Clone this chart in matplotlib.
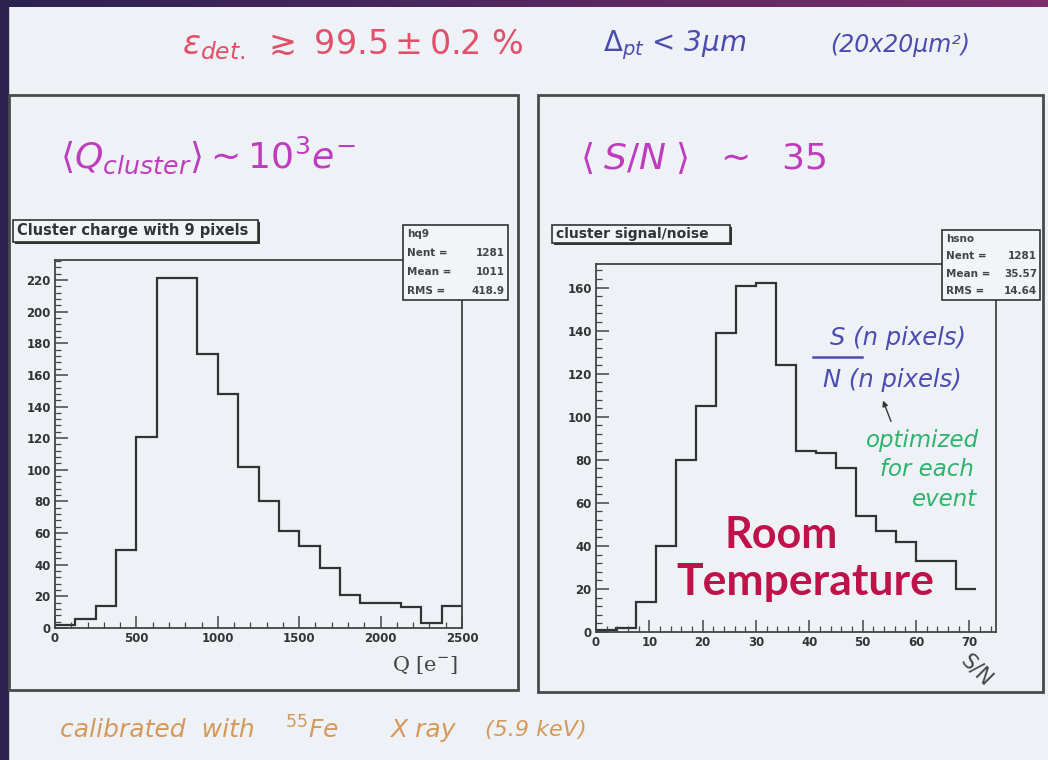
"""Slide recreation: cluster charge and cluster S/N histograms (ROOT style) with notes."""
import matplotlib
matplotlib.use('Agg')
import matplotlib.pyplot as plt
import numpy as np
from matplotlib.patches import Rectangle
from matplotlib.colors import LinearSegmentedColormap
from matplotlib.ticker import MultipleLocator

plt.rcParams['mathtext.fontset'] = 'dejavusans'

# Cluster charge with 9 pixels: 20 bins of 125 e- from 0 to 2500
q_edges = np.linspace(0, 2500, 21)
q_counts = [2, 6, 14, 49, 121, 221, 221, 173, 148, 102,
            80, 61, 52, 38, 21, 16, 16, 13, 3, 14]
q_stat_keys = ['Nent', 'Mean', 'RMS']
q_stat_vals = ['1281', '1011', '418.9']
q_hname = 'hq9'

# Cluster signal/noise: bins of 3.75, drawn up to 71.25
sn_edges = np.linspace(0, 71.25, 20)
sn_counts = [1, 2, 14, 40, 80, 105, 139, 161, 162, 124,
             84, 83, 76, 54, 47, 42, 33, 33, 20]
sn_stat_keys = ['Nent', 'Mean', 'RMS']
sn_stat_vals = ['1281', '35.57', '14.64']
sn_hname = 'hsno'

q_xticks = [0, 500, 1000, 1500, 2000, 2500]
q_yticks = list(range(0, 221, 20))
sn_xticks = [0, 10, 20, 30, 40, 50, 60, 70]
sn_yticks = list(range(0, 161, 20))

W, H = 1048, 760
fig = plt.figure(figsize=(W / 100, H / 100), dpi=100)
fig.patch.set_facecolor('#eef2f6')

# background layer: banner + panel frames
bg = fig.add_axes([0, 0, 1, 1], zorder=0)
cmap = LinearSegmentedColormap.from_list('banner', ['#2b2250', '#7b2d6e'])
bg.imshow(np.linspace(0, 1, 256)[None, :], cmap=cmap, extent=[0, W, 7, 0], aspect='auto')
bg.add_patch(Rectangle((0, 0), 8, H, color='#2b2250'))
bg.add_patch(Rectangle((9, 95), 509, 595, fill=False, ec='#4a4a4a', lw=2))
bg.add_patch(Rectangle((538, 95), 505, 597, fill=False, ec='#4a4a4a', lw=2))
bg.set_xlim(0, W)
bg.set_ylim(H, 0)
bg.axis('off')


def root_style(ax, xticks, yticks, xminor, yminor):
    ax.set_facecolor('none')
    for s in ax.spines.values():
        s.set_color('#444444')
        s.set_linewidth(1.3)
    ax.set_xticks(xticks)
    ax.set_yticks(yticks)
    ax.xaxis.set_minor_locator(MultipleLocator(xminor))
    ax.yaxis.set_minor_locator(MultipleLocator(yminor))
    ax.tick_params(which='both', direction='in', colors='#444444', labelsize=8.5, pad=3)
    ax.tick_params(which='major', length=9, width=1.1)
    ax.tick_params(which='minor', length=4.5, width=0.9)
    plt.setp(ax.get_xticklabels() + ax.get_yticklabels(), fontweight='bold', color='#333333')


axL = fig.add_axes([55 / W, (H - 628) / H, 407 / W, 368 / H], zorder=1)
axL.stairs(q_counts, q_edges, baseline=None, color='#333333', lw=1.6)
axL.set_xlim(0, 2500)
axL.set_ylim(0, 232.6)
root_style(axL, q_xticks, q_yticks, 100, 4)

axR = fig.add_axes([596 / W, (H - 632) / H, 400 / W, 368 / H], zorder=1)
axR.stairs(sn_counts, sn_edges, baseline=None, color='#333333', lw=1.6)
axR.set_xlim(0, 75)
axR.set_ylim(0, 171)
root_style(axR, sn_xticks, sn_yticks, 2, 4)

# overlay layer: boxes and annotations
fg = fig.add_axes([0, 0, 1, 1], zorder=2)
fg.set_xlim(0, W)
fg.set_ylim(H, 0)
fg.axis('off')
fg.patch.set_alpha(0)


def title_box(x0, y0, x1, y1, text, size):
    fg.add_patch(Rectangle((x0 + 2, y0 + 2), x1 - x0, y1 - y0, fc='#333333', ec='none'))
    fg.add_patch(Rectangle((x0, y0), x1 - x0, y1 - y0, fc='#f2f5f8', ec='#333333', lw=1.2))
    fg.text(x0 + 4, (y0 + y1) / 2, text, va='center', ha='left', fontsize=size,
            fontweight='bold', color='#333333')


def stats_box(x0, y0, x1, y1, name, keys, vals):
    fg.add_patch(Rectangle((x0, y0), x1 - x0, y1 - y0, fc='#f2f5f8', ec='#333333', lw=1.2))
    step = (y1 - y0) / 4
    fg.text(x0 + 4, y0 + step * 0.5, name, va='center', fontsize=7.5, fontweight='bold', color='#444444')
    for i, (k, v) in enumerate(zip(keys, vals)):
        yy = y0 + step * (i + 1.5)
        fg.text(x0 + 4, yy, f'{k} =', va='center', fontsize=7.5, fontweight='bold', color='#444444')
        fg.text(x1 - 3, yy, v, va='center', ha='right', fontsize=7.5, fontweight='bold', color='#444444')


title_box(13, 220, 258, 242, 'Cluster charge with 9 pixels', 10.5)
title_box(552, 225, 730, 243, 'cluster signal/noise', 10)
stats_box(403, 225, 508, 300, q_hname, q_stat_keys, q_stat_vals)
stats_box(942, 230, 1040, 300, sn_hname, sn_stat_keys, sn_stat_vals)

fg.text(425, 665, r'Q [e$^{-}$]', fontsize=15, family='DejaVu Serif', color='#444444',
        ha='center', va='center')
fg.text(977, 670, 'S/N', rotation=-45, fontsize=15, color='#444444', ha='center', va='center')

red, blue, magenta = '#e0506a', '#4b4bb0', '#c03cbf'
green, orange = '#2fb36e', '#d4995a'

fg.text(182, 45, r'$\varepsilon_{det.}\ \gtrsim\ 99.5 \pm 0.2\ \%$', fontsize=24, color=red,
        va='center', ha='left')
fg.text(603, 45, r'$\Delta_{pt}$ < 3μm', fontsize=20, color=blue, style='italic',
        va='center', ha='left')
fg.text(830, 45, '(20x20μm²)', fontsize=17, color=blue, style='italic', va='center', ha='left')

fg.text(60, 155, r'$\langle Q_{cluster}\rangle \sim 10^{3} e^{-}$', fontsize=26, color=magenta,
        va='center', ha='left')
fg.text(580, 157, r'$\langle\;S/N\;\rangle\ \ \sim\ \ 35$', fontsize=26, color=magenta,
        va='center', ha='left')

fg.text(830, 338, 'S (n pixels)', fontsize=17.5, color=blue, style='italic', va='center', ha='left')
fg.plot([813, 862], [357, 357], color=blue, lw=1.8)
fg.text(823, 380, 'N (n pixels)', fontsize=17.5, color=blue, style='italic', va='center', ha='left')
fg.annotate('', xy=(882, 398), xytext=(892, 424),
            arrowprops=dict(arrowstyle='-|>', color='#333333', lw=1, mutation_scale=8))
fg.text(866, 440, 'optimized', fontsize=16.5, color=green, style='italic', va='center', ha='left')
fg.text(880, 470, 'for each', fontsize=16.5, color=green, style='italic', va='center', ha='left')
fg.text(912, 500, 'event', fontsize=16.5, color=green, style='italic', va='center', ha='left')

fg.text(781, 535, 'Room', fontsize=31, fontweight='bold', family='Lato', color='#c0124a',
        ha='center', va='center')
fg.text(805, 582, 'Temperature', fontsize=32, fontweight='bold', family='Lato', color='#c0124a',
        ha='center', va='center')

fg.text(60, 730, 'calibrated  with', fontsize=18, color=orange, style='italic', va='center', ha='left')
fg.text(285, 730, r'$^{55}$Fe', fontsize=18, color=orange, style='italic', va='center', ha='left')
fg.text(390, 730, 'X ray', fontsize=18, color=orange, style='italic', va='center', ha='left')
fg.text(485, 730, '(5.9 keV)', fontsize=16, color=orange, style='italic', va='center', ha='left')

fig.savefig('out.png', dpi=100, facecolor=fig.get_facecolor())
plt.close(fig)
